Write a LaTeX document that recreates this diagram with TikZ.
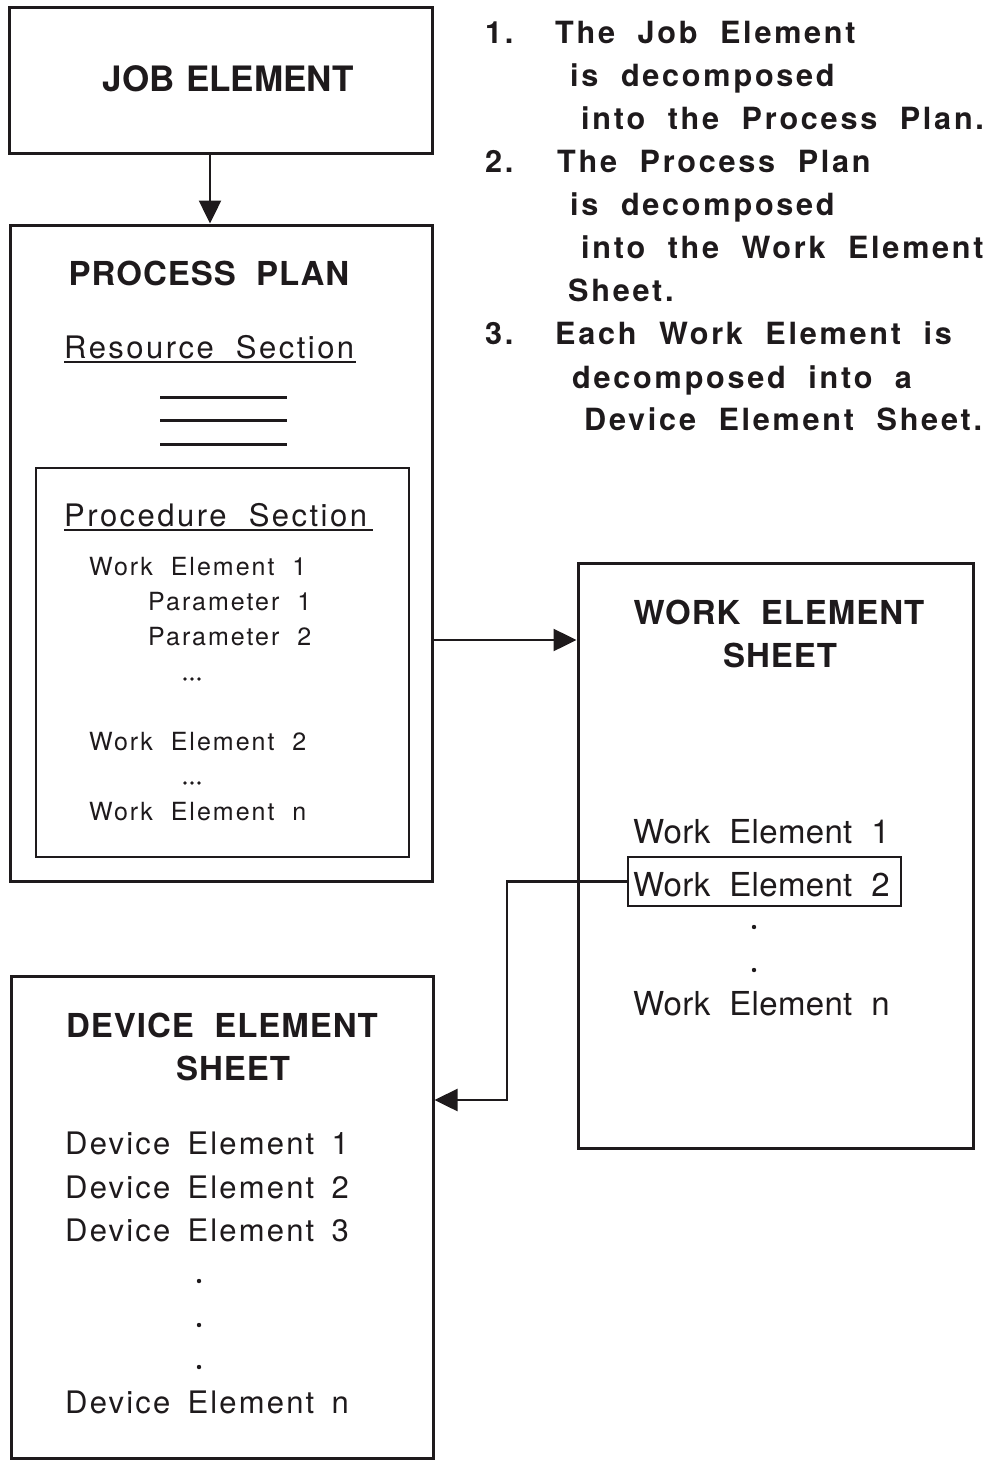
\documentclass[tikz,border=0pt]{standalone}
\usepackage{fontspec}
\setmainfont{TeX Gyre Heros}
\newfontfamily\ttlfont[LetterSpace=3,WordSpace=2]{TeX Gyre Heros}
\newfontfamily\jobfont[LetterSpace=0,WordSpace=1.2]{TeX Gyre Heros}
\newfontfamily\notefont[LetterSpace=9,WordSpace=2]{TeX Gyre Heros}
\newfontfamily\bodyfont[LetterSpace=8,WordSpace=1.5]{TeX Gyre Heros}
\newfontfamily\devfont[LetterSpace=7,WordSpace=1.6]{TeX Gyre Heros}
\newfontfamily\wesfont[LetterSpace=1,WordSpace=2]{TeX Gyre Heros}
\newfontfamily\secfont[LetterSpace=8,WordSpace=2]{TeX Gyre Heros}
\usetikzlibrary{arrows.meta}
\definecolor{ink}{RGB}{30,26,28}
\begin{document}
\begin{tikzpicture}[x=1pt,y=-1pt,line join=miter,
  box/.style={draw=ink,line width=3pt,inner sep=0pt},
  ibox/.style={draw=ink,line width=2pt,inner sep=0pt},
  ttl/.style={inner sep=0pt,text=ink,font=\ttlfont\bfseries\fontsize{33}{33}\selectfont},
  note/.style={inner sep=0pt,text=ink,anchor=base west,font=\notefont\bfseries\fontsize{30.6}{30.6}\selectfont},
  ppbody/.style={inner sep=0pt,text=ink,anchor=base west,font=\bodyfont\fontsize{25}{25}\selectfont},
  wesbody/.style={inner sep=0pt,text=ink,anchor=base west,font=\wesfont\fontsize{33}{33}\selectfont},
  debody/.style={inner sep=0pt,text=ink,anchor=base west,font=\devfont\fontsize{31}{31}\selectfont},
  sec/.style={inner sep=0pt,text=ink,anchor=base west,font=\secfont\fontsize{31}{31}\selectfont},
  ulin/.style={draw=ink,line width=2pt},
  arr/.style={draw=ink,line width=2.5pt,-{Triangle[length=23pt,width=22pt]}},
  dotmark/.style={fill=ink,draw=none}]
\useasboundingbox (0,0) rectangle (991,1461);
\fill[white] (0,0) rectangle (991,1461);

% boxes
\node[box,minimum width=423pt,minimum height=145pt] (job) at (220.5,80.5) {};
\node[box,minimum width=422pt,minimum height=656pt] (pp) at (221,553) {};
\node[ibox,minimum width=373pt,minimum height=389pt] (proc) at (222.5,662.5) {};
\node[box,minimum width=395pt,minimum height=585pt] (wes) at (775.5,855.5) {};
\node[ibox,minimum width=273pt,minimum height=49pt] (we2box) at (764.5,881.5) {};
\node[box,minimum width=422pt,minimum height=482pt] (des) at (222,1217) {};

% titles
\node[ttl,anchor=base,font=\jobfont\bfseries\fontsize{35}{35}\selectfont] (tjob) at (228,92) {JOB ELEMENT};
\node[ttl,anchor=base] (tpp) at (209,285) {PROCESS PLAN};
\node[ttl,anchor=base] (twes1) at (779,624) {WORK ELEMENT};
\node[ttl,anchor=base] (twes2) at (780,667) {SHEET};
\node[ttl,anchor=base] (tdes1) at (222,1037) {DEVICE ELEMENT};
\node[ttl,anchor=base] (tdes2) at (233,1080) {SHEET};

% process plan contents
\node[sec] (res) at (64,358) {Resource Section};
\draw[ulin] ([yshift=-4pt]res.base west) -- ([yshift=-4pt,xshift=2pt]res.base east);
\coordinate (l1a) at (160,397); \coordinate (l1b) at (287,397);
\coordinate (l2a) at (160,420); \coordinate (l2b) at (287,420);
\coordinate (l3a) at (160,444); \coordinate (l3b) at (287,444);
\draw[draw=ink,line width=3pt] (l1a) -- (l1b) (l2a) -- (l2b) (l3a) -- (l3b);

\node[sec] (procsec) at (64,526) {Procedure Section};
\draw[ulin] ([yshift=-4pt]procsec.base west) -- ([yshift=-4pt,xshift=6pt]procsec.base east);
\node[ppbody] (pwe1) at (89,575) {Work Element 1};
\node[ppbody] (ppar1) at (148,610) {Parameter 1};
\node[ppbody] (ppar2) at (148,645) {Parameter 2};
\foreach \xx in {185,192,199} {\fill[dotmark] (\xx,679) circle (1.8pt);}
\node[ppbody] (pwe2) at (89,750) {Work Element 2};
\foreach \xx in {185,192,199} {\fill[dotmark] (\xx,783) circle (1.8pt);}
\node[ppbody] (pwen) at (89,820) {Work Element n};

% work element sheet contents
\node[wesbody] (wwe1) at (633,843) {Work Element 1};
\node[wesbody] (wwe2) at (633,896) {Work Element 2};
\fill[dotmark] (754,927) circle (2.2pt);
\fill[dotmark] (754,970) circle (2.2pt);
\node[wesbody] (wwen) at (633,1015) {Work Element n};

% device element sheet contents
\node[debody] (de1) at (65,1154) {Device Element 1};
\node[debody] (de2) at (65,1198) {Device Element 2};
\node[debody] (de3) at (65,1241) {Device Element 3};
\fill[dotmark] (199,1281) circle (2.2pt);
\fill[dotmark] (199,1325) circle (2.2pt);
\fill[dotmark] (199,1367) circle (2.2pt);
\node[debody] (den) at (65,1413) {Device Element n};

% notes
\node[note] (n1) at (485,44) {1.};
\node[note] (n1a) at (555,44) {The Job Element};
\node[note] (n1b) at (570,87) {is decomposed};
\node[note] (n1c) at (581,130) {into the Process Plan.};
\node[note] (n2) at (485,172) {2.};
\node[note] (n2a) at (557,172) {The Process Plan};
\node[note] (n2b) at (570,215) {is decomposed};
\node[note] (n2c) at (581,258) {into the Work Element};
\node[note] (n2d) at (568,301) {Sheet.};
\node[note] (n3) at (485,344) {3.};
\node[note] (n3a) at (555,344) {Each Work Element is};
\node[note] (n3b) at (572,388) {decomposed into a};
\node[note] (n3c) at (584,430) {Device Element Sheet.};

% connectors
\coordinate (ax) at (210,0);
\draw[arr] (job.south -| ax) -- (pp.north -| ax);
\coordinate (ay) at (0,640);
\draw[arr] (pp.east |- ay) -- (wes.west |- ay);
\coordinate (bend) at (507,1100);
\draw[arr] (we2box.west) -| (bend) -- (des.east |- bend);
\end{tikzpicture}
\end{document}
